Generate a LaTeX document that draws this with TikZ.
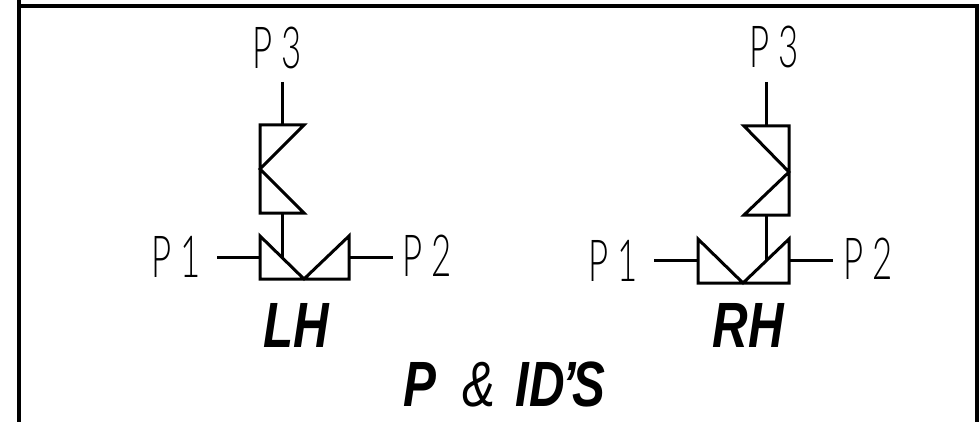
\documentclass[tikz,border=0pt]{standalone}
\usepackage{fontspec}
\newfontfamily\thinfont{Lato Light}
\setsansfont{Liberation Sans}
\tikzset{
  x=1pt,y=-1pt,
  pipe/.style={line width=3pt,line cap=butt,line join=miter,miter limit=3},
  frameline/.style={line width=3.2pt},
  plabel/.style={inner sep=0pt,anchor=base,font=\fontsize{58}{58}\thinfont,xscale=0.6,transform shape},
  bigitalic/.style={inner sep=0pt,anchor=base,font=\fontsize{64}{64}\sffamily\bfseries\itshape,xscale=0.77,transform shape},
}
\begin{document}
\begin{tikzpicture}
\useasboundingbox (0,0) rectangle (979,422);
\coordinate (t0) at (19,0); \coordinate (bl) at (19,422); \coordinate (tl) at (19,6);
\coordinate (tr) at (977,6); \coordinate (br) at (977,422);
\draw[frameline] (t0) -- (bl);
\draw[frameline] (tl) -- (tr) -- (br);
% LH
\coordinate (la1) at (304,125); \coordinate (la2) at (260,125); \coordinate (la3) at (260,213); \coordinate (la4) at (304,213); \coordinate (lam) at (260,169);
\draw[pipe] (la1) -- (la2) -- (la3) -- (la4) -- (lam) -- cycle;
\coordinate (ltop) at (282,82); \coordinate (lat) at (282,125); \coordinate (lab) at (282,213); \coordinate (ljn) at (282,257);
\draw[pipe] (ltop) -- (lat);
\draw[pipe] (lab) -- (ljn);
\coordinate (lb1) at (260,236); \coordinate (lb2) at (260,279); \coordinate (lb3) at (349,279); \coordinate (lb4) at (349,236); \coordinate (lbm) at (304,279);
\draw[pipe] (lbm) -- (lb1) -- (lb2) -- (lb3) -- (lb4) -- cycle;
\coordinate (lp1) at (217,257); \coordinate (lp1e) at (260,257); \coordinate (lp2) at (393,257); \coordinate (lp2e) at (349,257);
\draw[pipe] (lp1) -- (lp1e);
\draw[pipe] (lp2e) -- (lp2);
% RH
\coordinate (ra1) at (744,126); \coordinate (ra2) at (789,126); \coordinate (ra3) at (789,215); \coordinate (ra4) at (744,215); \coordinate (ram) at (789,172);
\draw[pipe] (ra1) -- (ra2) -- (ra3) -- (ra4) -- (ram) -- cycle;
\coordinate (rtop) at (766,82); \coordinate (rat) at (766,126); \coordinate (rab) at (766,215); \coordinate (rjn) at (766,260);
\draw[pipe] (rtop) -- (rat);
\draw[pipe] (rab) -- (rjn);
\coordinate (rb1) at (698,239); \coordinate (rb2) at (698,283); \coordinate (rb3) at (789,283); \coordinate (rb4) at (789,239); \coordinate (rbm) at (743,283);
\draw[pipe] (rbm) -- (rb1) -- (rb2) -- (rb3) -- (rb4) -- cycle;
\coordinate (rp1) at (654,260); \coordinate (rp1e) at (698,260); \coordinate (rp2) at (833,260); \coordinate (rp2e) at (789,260);
\draw[pipe] (rp1) -- (rp1e);
\draw[pipe] (rp2e) -- (rp2);
% labels
\node[plabel] (l3) at (277,69) {P 3};
\node[plabel] (l1) at (176,277) {P 1};
\node[plabel] (l2) at (427,276) {P 2};
\node[plabel] (r3) at (774,68) {P 3};
\node[plabel] (r1) at (613,281) {P 1};
\node[plabel] (r2) at (868,279) {P 2};
\node[bigitalic] (lh) at (296,347) {LH};
\node[bigitalic] (rh) at (748,347) {RH};
\node[bigitalic] (pid) at (504,406) {P\hspace{0.55em}{\mdseries\&}\hspace{0.4em}ID\kern-0.05em'\kern-0.08em S};
\end{tikzpicture}
\end{document}
